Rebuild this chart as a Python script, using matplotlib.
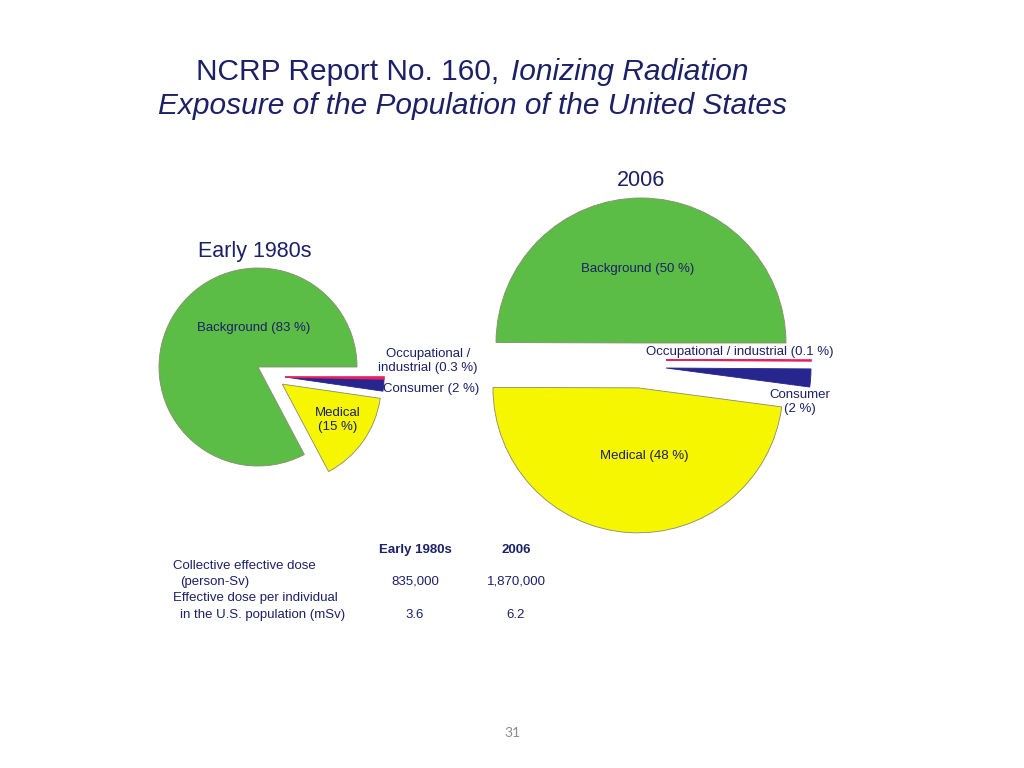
import numpy as np
import matplotlib
matplotlib.use("Agg")
import matplotlib.pyplot as plt

plt.rcParams['font.family'] = ['Liberation Sans', 'DejaVu Sans']

# data
categories = ["Background", "Medical", "Consumer", "Occupational / industrial"]
share_1980s = [83, 15, 2, 0.3]
share_2006 = [50, 48, 2, 0.1]
slice_colors = ["#5cbd46", "#f6f600", "#26268e", "#e8205f"]

table_cols = ["Early 1980s", "2006"]
table_rows = [("Collective effective dose", "(person-Sv)"),
              ("Effective dose per individual", "in the U.S. population (mSv)")]
table_vals = [("835,000", "1,870,000"), ("3.6", "6.2")]

W, H = 1024, 768
TXT = "#1c2066"


def y(px):
    return H - px


fig = plt.figure(figsize=(W / 100, H / 100), dpi=100)
ax = fig.add_axes([0, 0, 1, 1])


def draw_pie(values, center, radius, explode, shifts):
    # matplotlib's explode is in data units, so scale it by the radius
    wedges, _ = ax.pie(values, colors=slice_colors, center=center, radius=radius,
                       startangle=0, counterclock=True,
                       explode=[e * radius for e in explode],
                       wedgeprops=dict(edgecolor="#8a8a70", linewidth=0.6),
                       normalize=True, frame=True)
    # the tiny slices are pulled out to the right and a bit down
    for idx, (dx, dy) in shifts.items():
        wedges[idx].set_center((center[0] + dx, center[1] + dy))
    wedges[3].set_edgecolor(slice_colors[3])
    wedges[3].set_linewidth(1.2)
    wedges[2].set_edgecolor(slice_colors[2])
    return wedges


# left pie, early 1980s
lc = (258, y(367))
draw_pie(share_1980s, lc, 99, [0, 0.3, 0, 0], {2: (27, -10), 3: (27, -10)})
# right pie, 2006
rc = (641, y(343))
draw_pie(share_2006, rc, 145, [0, 0.31, 0, 0], {2: (25, -25), 3: (25, -17)})

ax.set_xlim(0, W)
ax.set_ylim(0, H)
ax.set_aspect("equal")
ax.axis("off")

# titles
ax.text(507, y(72), "NCRP Report No. 160, ", ha="right", va="center",
        fontsize=21.5, color=TXT)
ax.text(511, y(72), "Ionizing Radiation", ha="left", va="center",
        fontsize=21.5, color=TXT, style="italic")
ax.text(472, y(106), "Exposure of the Population of the United States",
        ha="center", va="center", fontsize=21.5, color=TXT, style="italic")

ax.text(255, y(252), table_cols[0], ha="center", va="center", fontsize=15.5, color=TXT)
ax.text(641, y(180), table_cols[1], ha="center", va="center", fontsize=15.5, color=TXT)

# pie labels
lab = dict(fontsize=9.5, color=TXT)
ax.text(254, y(328), f"{categories[0]} ({share_1980s[0]:g} %)", ha="center", va="center", **lab)
ax.text(338, y(420), f"{categories[1]}\n({share_1980s[1]:g} %)", ha="center", va="center",
        linespacing=1.15, **lab)
ax.text(428, y(361), "Occupational /\nindustrial (%g %%)" % share_1980s[3], ha="center",
        va="center", linespacing=1.15, **lab)
ax.text(431, y(389), f"{categories[2]} ({share_1980s[2]:g} %)", ha="center", va="center", **lab)

ax.text(638, y(269), f"{categories[0]} ({share_2006[0]:g} %)", ha="center", va="center", **lab)
ax.text(644, y(456), f"{categories[1]} ({share_2006[1]:g} %)", ha="center", va="center", **lab)
ax.text(740, y(352), f"{categories[3]} ({share_2006[3]:g} %)", ha="center", va="center", **lab)
ax.text(800, y(402), f"{categories[2]}\n({share_2006[2]:g} %)", ha="center", va="center",
        linespacing=1.15, **lab)

# dose table
tab = dict(fontsize=9.5, color=TXT)
col_x = [415, 516]
for cx, name in zip(col_x, table_cols):
    ax.text(cx, y(550), name, ha="center", va="center", fontweight="bold", **tab)
row_y = [(566, 582), (598, 615)]
for (l1, l2), (ya, yb), vals in zip(table_rows, row_y, table_vals):
    ax.text(173, y(ya), l1, ha="left", va="center", **tab)
    ax.text(180, y(yb), l2, ha="left", va="center", **tab)
    for cx, v in zip(col_x, vals):
        ax.text(cx, y(yb), v, ha="center", va="center", **tab)

ax.text(512, y(733), "31", ha="center", va="center", fontsize=10, color="#8c8c8c",
        family=["Lato", "DejaVu Sans"])

fig.savefig("out.png", dpi=100)
